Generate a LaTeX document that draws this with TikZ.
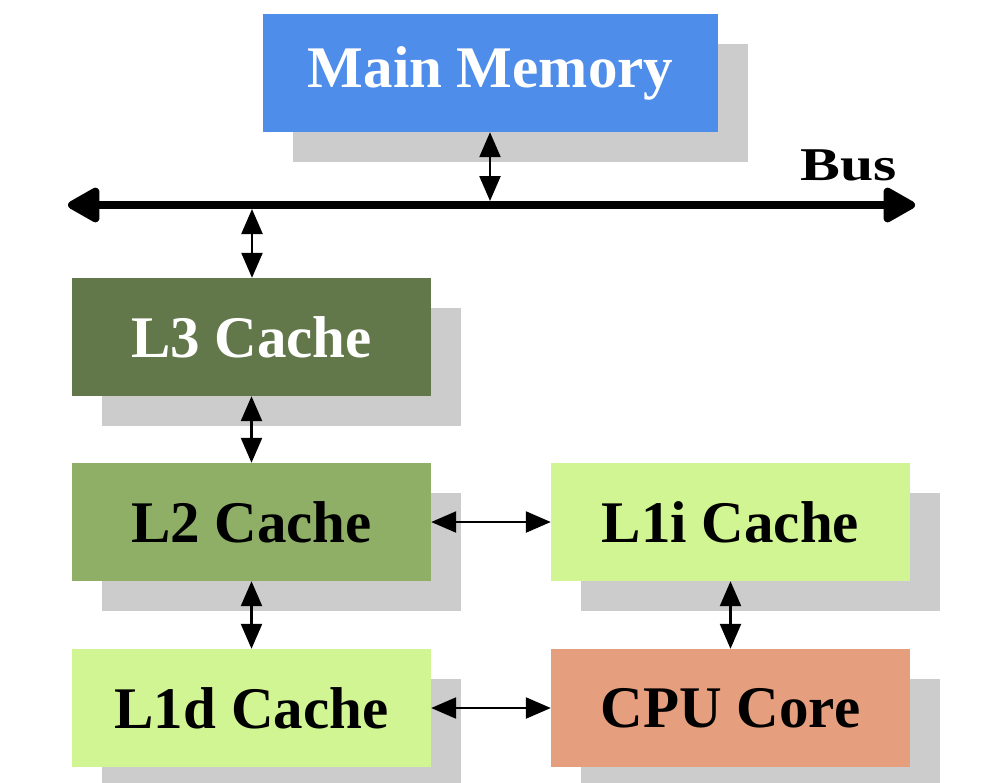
\documentclass[tikz,border=0pt]{standalone}
\usepackage{fontspec}
\setmainfont{Liberation Serif}
\usetikzlibrary{arrows.meta,shadows}
\definecolor{mmblue}{RGB}{79,141,235}
\definecolor{lthree}{RGB}{98,120,74}
\definecolor{ltwo}{RGB}{143,175,102}
\definecolor{lone}{RGB}{208,245,146}
\definecolor{cpucol}{RGB}{229,158,126}
\definecolor{shadowgray}{RGB}{204,204,204}
\tikzset{
  unit/.style={rectangle, minimum width=359pt, minimum height=118pt, inner sep=0pt,
    font=\fontsize{59}{60}\selectfont\bfseries,
    drop shadow={shadow xshift=30pt, shadow yshift=-30pt, fill=shadowgray, opacity=1}},
  link/.style={line width=2.4pt, {Triangle[length=25pt,width=21pt]}-{Triangle[length=25pt,width=21pt]}},
  busline/.style={line width=8pt, {Triangle[length=36pt,width=38pt,round]}-{Triangle[length=36pt,width=38pt,round]}}
}
\begin{document}
\begin{tikzpicture}[x=1pt,y=-1pt]
\useasboundingbox (0,0) rectangle (1000,782);
\fill[white] (0,0) rectangle (1000,782);
\node[unit, fill=mmblue, text=white, minimum width=455pt] (mm) at (490.5,73) {Main Memory};
\node[unit, fill=lthree, text=white] (l3) at (251.5,337) {L3 Cache};
\node[unit, fill=ltwo] (l2) at (251.5,522) {L2 Cache};
\node[unit, fill=lone] (l1d) at (251.5,708) {L1d Cache};
\node[unit, fill=lone] (l1i) at (730.5,522) {L1i Cache};
\node[unit, fill=cpucol] (cpu) at (730.5,708) {CPU Core};
\coordinate (busL) at (68,205);
\coordinate (busR) at (915,205);
\draw[busline] (busL) -- (busR);
\node[font=\fontsize{47}{48}\selectfont\bfseries, xscale=1.27, anchor=base, inner sep=0pt] (bus) at (849,180) {Bus};
\coordinate (mmbus) at (490,201);
\coordinate (l3bus) at (252,209);
\draw[link] (mm.south -| mmbus) -- (mmbus);
\draw[link] (l3bus) -- (l3.north -| l3bus);
\draw[link] (l3.south) -- (l2.north);
\draw[link] (l2.south) -- (l1d.north);
\draw[link] (l2.east) -- (l1i.west);
\draw[link] (l1d.east) -- (cpu.west);
\draw[link] (l1i.south) -- (cpu.north);
\end{tikzpicture}
\end{document}
